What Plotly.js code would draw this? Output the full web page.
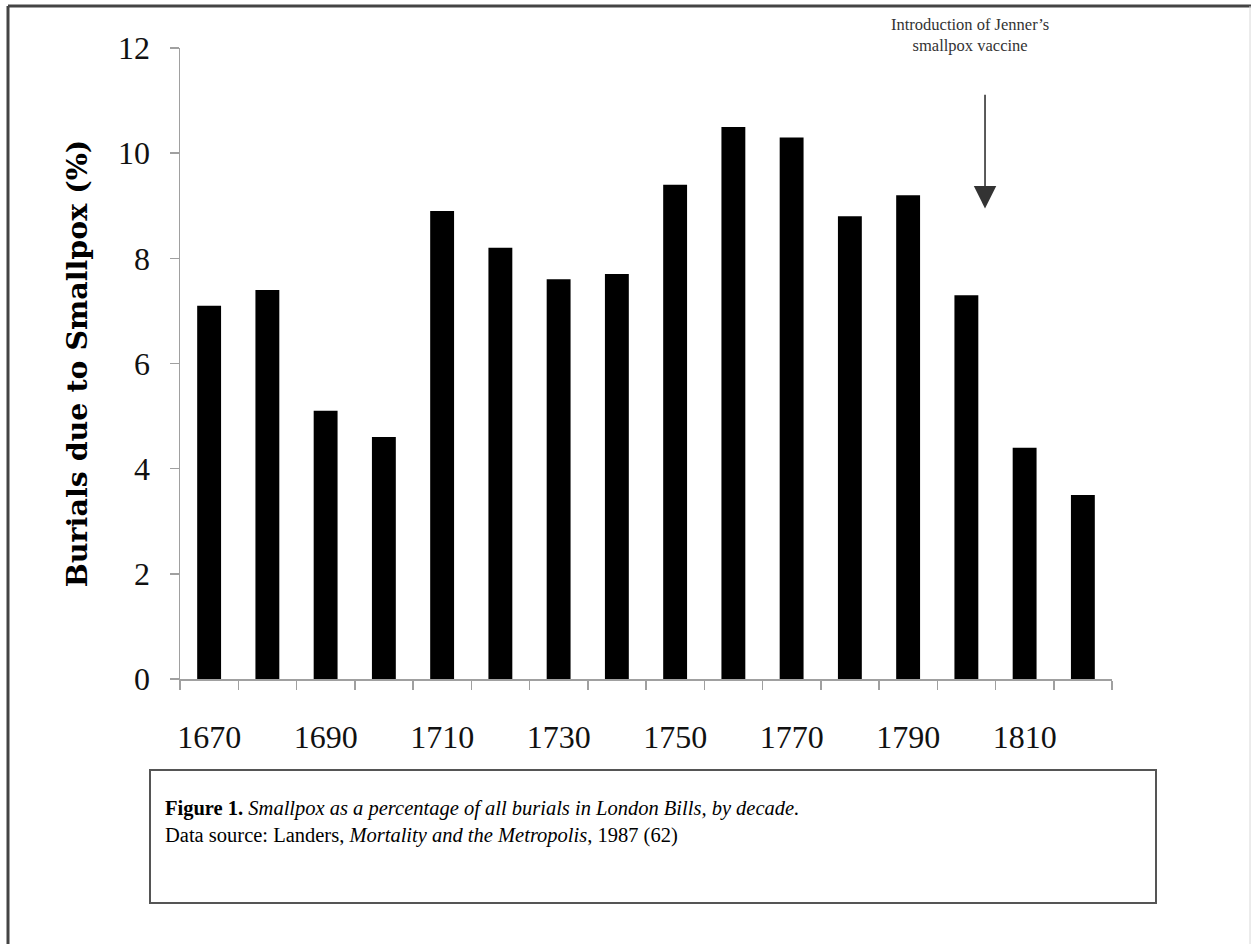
<!DOCTYPE html>
<html>
<head>
<meta charset="utf-8">
<script src="https://cdn.plot.ly/plotly-3.0.1.min.js"></script>
<style>html,body{margin:0;padding:0;background:#fff;}#chart{width:1251px;height:944px;}</style>
</head>
<body>
<div id="chart"></div>
<script>
// Data
const decades = [1670,1680,1690,1700,1710,1720,1730,1740,1750,1760,1770,1780,1790,1800,1810,1820];
const smallpoxPct = [7.1,7.4,5.1,4.6,8.9,8.2,7.6,7.7,9.4,10.5,10.3,8.8,9.2,7.3,4.4,3.5];
const xTickVals = [1670,1690,1710,1730,1750,1770,1790,1810];
const xTickText = ['1670','1690','1710','1730','1750','1770','1790','1810'];
const yTitle = 'Burials due to Smallpox (%)';
const noteText = "Introduction of Jenner’s<br>smallpox vaccine";
const vaccineYear = 1803.2;
const captionText = '<b>Figure 1.</b> <i>Smallpox as a percentage of all burials in London Bills, by decade.</i><br>Data source: Landers, <i>Mortality and the Metropolis</i>, 1987 (62)';

// Layout geometry (pixels)
const W = 1251, H = 944;
const L = 180, R = 1112, T = 48, B = 679;
const px2x = p => (p - L) / (R - L);
const py2y = p => (B - p) / (B - T);

const trace = {
  type: 'bar', x: decades, y: smallpoxPct, width: 4.1,
  marker: {color: '#000000', line: {width: 0}},
  hoverinfo: 'x+y'
};

const layout = {
  width: W, height: H,
  margin: {l: L, r: W - R, t: T, b: H - B, pad: 0},
  paper_bgcolor: '#ffffff', plot_bgcolor: '#ffffff',
  showlegend: false,
  xaxis: {
    range: [1665, 1825], tickmode: 'array', tickvals: xTickVals, ticktext: xTickText,
    ticks: '', showgrid: false, zeroline: false,
    showline: true, linecolor: '#a0a0a0', linewidth: 1.5,
    tickfont: {family: 'Liberation Serif', size: 32, color: '#111'},
    ticklabelstandoff: 29,
    minor: {tickmode: 'linear', tick0: 1665, dtick: 10, ticks: 'outside', ticklen: 9, tickwidth: 1.5, tickcolor: '#a0a0a0', showgrid: false}
  },
  yaxis: {
    range: [0, 12], dtick: 2, tick0: 0,
    ticks: 'outside', ticklen: 9, tickwidth: 1.5, tickcolor: '#a0a0a0',
    showline: true, linecolor: '#a0a0a0', linewidth: 1.5,
    showgrid: false, zeroline: false,
    tickfont: {family: 'Liberation Serif', size: 32, color: '#111'},
    ticklabelstandoff: 13,
    title: {text: yTitle, font: {family: 'DejaVu Serif', size: 28.5, color: '#000', weight: 'bold'}, standoff: 22}
  },
  annotations: [
    {x: vaccineYear, y: 8.95, ax: vaccineYear, ay: 11.14, xref: 'x', yref: 'y', axref: 'x', ayref: 'y',
     showarrow: true, text: '', arrowhead: 2, arrowsize: 2.8, arrowwidth: 1.6, arrowcolor: '#333'},
    {x: px2x(970), y: py2y(35), xref: 'paper', yref: 'paper', text: noteText, showarrow: false,
     font: {family: 'Liberation Serif', size: 16.5, color: '#333'}, align: 'center', xanchor: 'center', yanchor: 'middle'},
    {x: px2x(163), y: py2y(795), xref: 'paper', yref: 'paper', text: captionText, showarrow: false,
     font: {family: 'Liberation Serif', size: 20.5, color: '#000'}, align: 'left', xanchor: 'left', yanchor: 'top'}
  ],
  shapes: [
    {type: 'rect', xref: 'paper', yref: 'paper', x0: px2x(150), x1: px2x(1156), y0: py2y(770), y1: py2y(903),
     line: {color: '#555', width: 2}, fillcolor: 'rgba(0,0,0,0)'},
    {type: 'line', xref: 'paper', yref: 'paper', x0: px2x(8), x1: px2x(8), y0: py2y(6), y1: py2y(944),
     line: {color: '#444', width: 3}},
    {type: 'line', xref: 'paper', yref: 'paper', x0: px2x(8), x1: px2x(1251), y0: py2y(6), y1: py2y(6),
     line: {color: '#444', width: 3}},
    {type: 'line', xref: 'paper', yref: 'paper', x0: px2x(1250), x1: px2x(1250), y0: py2y(6), y1: py2y(944),
     line: {color: '#d8d8d8', width: 1}}
  ]
};

Plotly.newPlot('chart', [trace], layout, {displayModeBar: false, staticPlot: true});
</script>
</body>
</html>
